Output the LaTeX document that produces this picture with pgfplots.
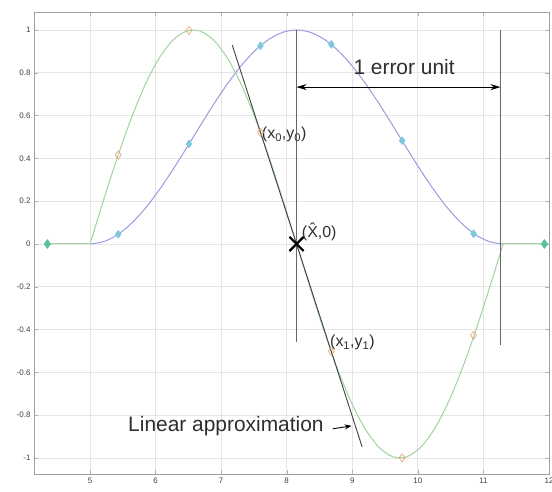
\documentclass[border=0pt]{standalone}
\usepackage{pgfplots}
\pgfplotsset{compat=1.18}
\usetikzlibrary{arrows.meta}
\usepackage{fontspec}
\setmainfont{Liberation Sans}

\definecolor{bumpblue}{HTML}{9A9AE0}
\definecolor{derivgreen}{HTML}{9FD39F}
\definecolor{mkcyan}{HTML}{7CC8DC}
\definecolor{mkorange}{HTML}{E8A878}
\definecolor{mkteal}{HTML}{5CBF9C}
\definecolor{annot}{HTML}{2E2E2E}

\begin{document}
\begin{tikzpicture}
\begin{axis}[
  scale only axis, width=515bp, height=462bp,
  xmin=4.146, xmax=12, ymin=-1.075, ymax=1.084,
  xtick={5,6,7,8,9,10,11,12},
  ytick={-1,-0.8,-0.6,-0.4,-0.2,0,0.2,0.4,0.6,0.8,1},
  grid=major, grid style={gray!20, line width=0.8pt},
  axis line style={gray!75},
  tick align=inside, major tick length=4bp, tick style={gray!60},
  tick label style={font=\fontsize{8}{9}\selectfont, text=black!75},
  /pgf/number format/assume math mode=true,
  yticklabel style={/pgf/number format/fixed},
]
\coordinate (sw) at (rel axis cs:0,0);
\coordinate (ne) at (rel axis cs:1,1);

% raised-cosine bump
\addplot[bumpblue, line width=1pt, smooth] coordinates {
(5.00,0) (5.21,0.0109) (5.42,0.0432) (5.63,0.0955) (5.84,0.1654) (6.05,0.25)
(6.26,0.3455) (6.47,0.4477) (6.68,0.5523) (6.89,0.6545) (7.10,0.75)
(7.31,0.8346) (7.52,0.9045) (7.73,0.9568) (7.94,0.9891) (8.15,1)
(8.36,0.9891) (8.57,0.9568) (8.78,0.9045) (8.99,0.8346) (9.20,0.75)
(9.41,0.6545) (9.62,0.5523) (9.83,0.4477) (10.04,0.3455) (10.25,0.25)
(10.46,0.1654) (10.67,0.0955) (10.88,0.0432) (11.09,0.0109) (11.30,0)
};

% its derivative (normalised)
\addplot[derivgreen, line width=1pt] coordinates {(4.35,0) (5.00,0)};
\addplot[derivgreen, line width=1pt, smooth] coordinates {
(5.00,0) (5.21,0.2079) (5.42,0.4067) (5.63,0.5878) (5.84,0.7431) (6.05,0.8660)
(6.26,0.9511) (6.47,0.9945) (6.68,0.9945) (6.89,0.9511) (7.10,0.8660)
(7.31,0.7431) (7.52,0.5878) (7.73,0.4067) (7.94,0.2079) (8.15,0)
(8.36,-0.2079) (8.57,-0.4067) (8.78,-0.5878) (8.99,-0.7431) (9.20,-0.8660)
(9.41,-0.9511) (9.62,-0.9945) (9.83,-0.9945) (10.04,-0.9511) (10.25,-0.8660)
(10.46,-0.7431) (10.67,-0.5878) (10.88,-0.4067) (11.09,-0.2079) (11.30,0)
};
\addplot[derivgreen, line width=1pt] coordinates {(11.30,0) (11.93,0)};

% sample points
\addplot[only marks, mark=diamond*, mark size=4bp, mkcyan, mark options={fill=mkcyan}] coordinates {
(5.43,0.0453) (6.51,0.4676) (7.60,0.9264) (8.68,0.9326) (9.76,0.4826) (10.85,0.0478)
};
\addplot[only marks, mark=diamond, mark size=4bp, mkorange, line width=0.7pt] coordinates {
(5.43,0.4159) (6.51,0.9979) (7.60,0.5221) (8.68,-0.5014) (9.76,-0.9994) (10.85,-0.4267)
};
\addplot[only marks, mark=diamond*, mark size=4.5bp, mkteal, mark options={fill=mkteal}] coordinates {
(4.35,0) (11.93,0)
};

% secant through (x0,y0) and (x1,y1)
\addplot[black!75, line width=0.9pt] coordinates {(7.17,0.929) (9.15,-0.948)};

% error-unit guides
\addplot[black!60, line width=0.7pt] coordinates {(8.15,1) (8.15,-0.46)};
\addplot[black!60, line width=0.7pt] coordinates {(11.26,1.0) (11.26,-0.47)};

% estimated zero crossing
\addplot[only marks, mark=x, mark size=10bp, black, line width=2.2pt] coordinates {(8.15,0)};

\draw[{Stealth[length=10bp,width=6bp]}-{Stealth[length=10bp,width=6bp]}, black, line width=0.8pt]
  (axis cs:8.15,0.733) -- (axis cs:11.26,0.733);
\node[font=\fontsize{21}{24}\selectfont, text=annot] at (axis cs:9.79,0.827) {1 error unit};

\node[anchor=west, inner sep=0, font=\fontsize{21}{24}\selectfont, text=annot] at (axis cs:5.58,-0.85) {Linear approximation};
\draw[-{Stealth[length=7bp,width=5bp]}, black, line width=0.9pt] (axis cs:8.70,-0.864) -- (axis cs:8.99,-0.85);

\node[anchor=west, inner sep=0, font=\fontsize{16}{18}\selectfont, text=annot] at (axis cs:7.62,0.51) {(x\textsubscript{0},y\textsubscript{0})};
\node[anchor=west, inner sep=0, font=\fontsize{16}{18}\selectfont, text=annot] at (axis cs:8.23,0.056) {(\^{X},0)};
\node[anchor=west, inner sep=0, font=\fontsize{16}{18}\selectfont, text=annot] at (axis cs:8.66,-0.46) {(x\textsubscript{1},y\textsubscript{1})};
\end{axis}
\pgfresetboundingbox
\path[use as bounding box] ([shift={(-34bp,-18bp)}]sw) rectangle ([shift={(3bp,12bp)}]ne);
\end{tikzpicture}
\end{document}
